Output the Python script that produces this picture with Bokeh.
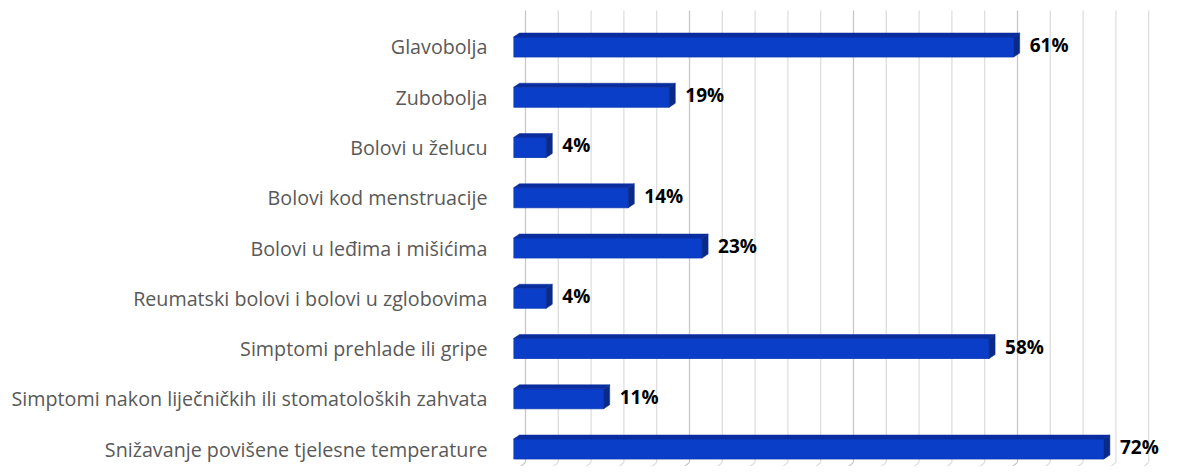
from bokeh.plotting import figure
from bokeh.models import Range1d, FixedTicker, LinearAxis
from bokeh.core.properties import value
from bokeh.embed import file_html
from bokeh.resources import INLINE

categories = [
    "Glavobolja",
    "Zubobolja",
    "Bolovi u želucu",
    "Bolovi kod menstruacije",
    "Bolovi u leđima i mišićima",
    "Reumatski bolovi i bolovi u zglobovima",
    "Simptomi prehlade ili gripe",
    "Simptomi nakon liječničkih ili stomatoloških zahvata",
    "Snižavanje povišene tjelesne temperature",
]
values = [61, 19, 4, 14, 23, 4, 58, 11, 72]
value_labels = ["61%", "19%", "4%", "14%", "23%", "4%", "58%", "11%", "72%"]
grid_ticks = list(range(0, 80, 4))
major_ticks = [0, 20, 40, 60]

LEFT, TOP = 513, 8
FRAME_W, FRAME_H = 656, 458
X_MAX = 80.0
Y_TOP, Y_BOT = -0.766, 8.348
PX = X_MAX / FRAME_W             # data-x per pixel
PY = (Y_BOT - Y_TOP) / FRAME_H   # data-y per pixel

p = figure(width=LEFT + FRAME_W, height=TOP + FRAME_H, output_backend="svg", toolbar_location=None,
           x_range=Range1d(0, X_MAX), y_range=Range1d(Y_BOT, Y_TOP),
           x_axis_location=None, y_axis_location=None,
           min_border_left=LEFT, min_border_right=0, min_border_top=TOP, min_border_bottom=0)
p.outline_line_color = None
p.xgrid.visible = False
p.ygrid.visible = False
p.background_fill_color = "white"

# back-wall gridlines with floor
wall_dx = 12 * PX
floor_y = Y_BOT - 4 * PY
gx = [g + wall_dx for g in grid_ticks]
gcol = ["#c8c8c8" if g in major_ticks else "#dedede" for g in grid_ticks]
p.segment(x0=gx, y0=[Y_TOP + 2 * PY] * len(gx), x1=gx, y1=[floor_y] * len(gx),
          line_color=gcol, line_width=1.3)
p.segment(x0=gx, y0=[floor_y] * len(gx), x1=[x - 5 * PX for x in gx], y1=[Y_BOT] * len(gx),
          line_color=gcol, line_width=1.3)

# 3D bars
dx, dy = 6 * PX, 4 * PY
half = 10 * PY
ys = list(range(len(values)))
tops = [y - half for y in ys]
bots = [y + half for y in ys]
p.quad(left=[0] * len(values), right=values, top=tops, bottom=bots,
       fill_color="#0b3ec8", line_color="#0a36b0", line_width=0.8)
top_xs = [[0, dx, v + dx, v] for v in values]
top_ys = [[t, t - dy, t - dy, t] for t in tops]
p.patches(top_xs, top_ys, fill_color="#0a2d9e", line_color="#0a2d9e", line_width=0.5)
side_xs = [[v, v + dx, v + dx, v] for v in values]
side_ys = [[t, t - dy, b - dy, b] for t, b in zip(tops, bots)]
p.patches(side_xs, side_ys, fill_color="#0a2a8a", line_color="#0a2a8a", line_width=0.5)

# value labels
p.text(x=[v + dx for v in values], y=[y - 2 * PY for y in ys], text=value_labels,
       x_offset=10, text_align="left", text_baseline="middle",
       text_font=value("Open Sans"), text_font_style="bold", text_font_size="19px",
       text_color="black")

# category axis
yaxis = LinearAxis(ticker=FixedTicker(ticks=ys))
yaxis.major_label_overrides = {i: c for i, c in enumerate(categories)}
yaxis.axis_line_color = None
yaxis.major_tick_line_color = None
yaxis.minor_tick_line_color = None
yaxis.major_tick_out = 0
yaxis.major_tick_in = 0
yaxis.major_label_standoff = 26
yaxis.major_label_text_font = "Open Sans"
yaxis.major_label_text_font_size = "19.7px"
yaxis.major_label_text_color = "#595959"
p.add_layout(yaxis, "left")

open("out.html", "w").write(file_html(p, INLINE))
